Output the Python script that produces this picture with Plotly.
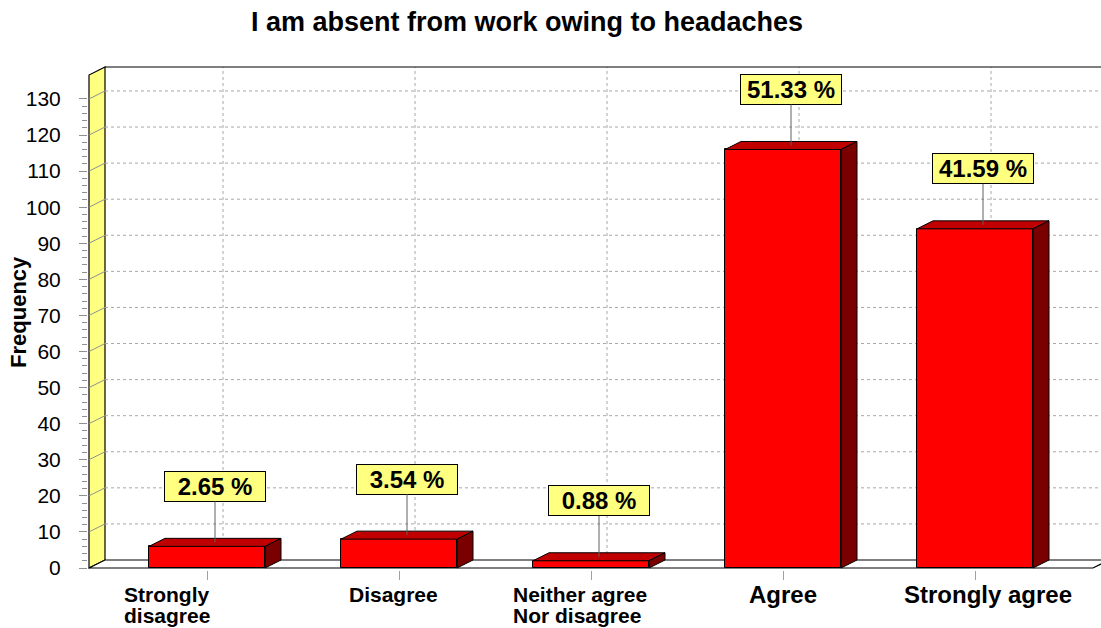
import plotly.graph_objects as go

# ---- data ----
categories = ["Strongly<br>disagree", "Disagree", "Neither agree<br>Nor disagree", "Agree", "Strongly agree"]
frequency = [6, 8, 2, 116, 94]
y_ticks = list(range(0, 140, 10))
title_text = "I am absent from work owing to headaches"
y_title = "Frequency"

# ---- page geometry (pixels) ----
W, H = 1101, 628
cat0_px, cat_step_px = 207, 192        # centre of first category, spacing
zero_px, px_per_unit = 568, 3.608      # y pixel of 0, pixels per unit
left_px, top_px, bottom_px = 88, 64, 570
wall_px = 89                           # front edge of the side wall
depth_x_px, depth_y_px = 16, 8         # 3-D depth offset
bar_px = 116                           # bar front width

dx = depth_x_px / cat_step_px
dy = depth_y_px / px_per_unit
bw = bar_px / cat_step_px
x_lo = (left_px - cat0_px) / cat_step_px
x_hi = (W - cat0_px) / cat_step_px
y_lo = -(bottom_px - zero_px) / px_per_unit
y_hi = (zero_px - top_px) / px_per_unit
wall_x = (wall_px - cat0_px) / cat_step_px
wall_top = (zero_px - 67) / px_per_unit
floor_end = (1093 - cat0_px) / cat_step_px

FONT = "Arial, Liberation Sans, sans-serif"
RED, RED_TOP, RED_SIDE = "#FF0000", "#C00000", "#7A0000"
YELLOW = "#FFFF80"
GRID = "#A8A8A8"

idx = list(range(len(categories)))
total = sum(frequency)
pct_labels = [f"{v / total * 100:.2f} %" for v in frequency]

fig = go.Figure()

# front faces of the bars
fig.add_trace(go.Bar(
    x=idx, y=frequency, width=bw,
    marker=dict(color=RED, line=dict(color="black", width=1)),
    hoverinfo="skip", showlegend=False,
))

# top and side faces for the 3-D look
top_x, top_y, side_x, side_y = [], [], [], []
for i, v in zip(idx, frequency):
    l, r = i - bw / 2, i + bw / 2
    top_x += [l, l + dx, r + dx, r, l, None]
    top_y += [v, v + dy, v + dy, v, v, None]
    side_x += [r, r + dx, r + dx, r, r, None]
    side_y += [0, dy, v + dy, v, 0, None]
fig.add_trace(go.Scatter(x=top_x, y=top_y, mode="lines", fill="toself",
                         fillcolor=RED_TOP, line=dict(color="black", width=1),
                         hoverinfo="skip", showlegend=False))
fig.add_trace(go.Scatter(x=side_x, y=side_y, mode="lines", fill="toself",
                         fillcolor=RED_SIDE, line=dict(color="black", width=1),
                         hoverinfo="skip", showlegend=False))

# ---- walls, floor and gridlines ----
shapes = []
shapes.append(dict(type="path", layer="below", xref="x", yref="y",
                   path=f"M{wall_x},0 L{wall_x + dx},{dy} L{wall_x + dx},{wall_top} "
                        f"L{wall_x},{wall_top - dy} Z",
                   fillcolor=YELLOW, line=dict(color="black", width=1.2)))
shapes.append(dict(type="path", layer="below", xref="x", yref="y",
                   path=f"M{wall_x},0 L{floor_end},0 L{floor_end + dx},{dy} "
                        f"L{wall_x + dx},{dy} Z",
                   fillcolor="white", line=dict(color="black", width=1.2)))
for t in y_ticks[1:]:
    shapes.append(dict(type="line", layer="below", xref="x", yref="y",
                       x0=wall_x, y0=t, x1=wall_x + dx, y1=t + dy,
                       line=dict(color="#909090", width=1)))
    shapes.append(dict(type="line", layer="below", xref="x", yref="y",
                       x0=wall_x + dx, y0=t + dy, x1=x_hi, y1=t + dy,
                       line=dict(color=GRID, width=1, dash="dot")))
for i in idx:
    shapes.append(dict(type="line", layer="below", xref="x", yref="y",
                       x0=i + dx, y0=dy, x1=i + dx, y1=wall_top,
                       line=dict(color=GRID, width=1, dash="dot")))
shapes.append(dict(type="line", layer="below", xref="x", yref="y",
                   x0=wall_x + dx, y0=wall_top, x1=x_hi, y1=wall_top,
                   line=dict(color="black", width=1.2)))

# ---- annotations ----
annotations = []
for i, v, lab in zip(idx, frequency, pct_labels):
    annotations.append(dict(
        x=i + dx / 2, y=v + dy / 2, xref="x", yref="y",
        text=f"<b>{lab}</b>", showarrow=True, arrowhead=0, arrowwidth=1,
        arrowcolor="#606060", standoff=0, ax=0, ay=-56,
        bgcolor=YELLOW, bordercolor="black", borderwidth=1, borderpad=1,
        width=98, height=27,
        font=dict(family=FONT, size=24, color="black"),
    ))

# category labels, one annotation per line
label_left = [-85, -52, -80, -36, -73]
label_size = [21, 21, 21, 24, 24]
for i, cat, sh, fs in zip(idx, categories, label_left, label_size):
    for k, line in enumerate(cat.split("<br>")):
        annotations.append(dict(
            x=i, y=0, xref="x", yref="paper", xanchor="left", yanchor="middle",
            xshift=sh, yshift=-(24 + 21 * k),
            text=f"<b>{line}</b>", showarrow=False,
            font=dict(family=FONT, size=fs, color="black"),
        ))

annotations.append(dict(
    x=0, y=0.51, xref="paper", yref="paper", xanchor="center", yanchor="middle",
    xshift=19 - left_px, text=f"<b>{y_title}</b>", textangle=-90, showarrow=False,
    font=dict(family=FONT, size=22, color="black"),
))

fig.update_layout(
    width=W, height=H,
    margin=dict(l=left_px, r=0, t=top_px, b=H - bottom_px, pad=0),
    paper_bgcolor="white", plot_bgcolor="white",
    title=dict(text=f"<b>{title_text}</b>", xref="container", yref="container",
               x=527 / W, y=1 - 22 / H, xanchor="center", yanchor="middle",
               font=dict(family=FONT, size=27, color="black")),
    xaxis=dict(range=[x_lo, x_hi], tickvals=idx, showticklabels=False,
               ticks="outside", ticklen=9, tickcolor="#A0A0A0", tickwidth=1,
               showgrid=False, zeroline=False, showline=False, fixedrange=True),
    yaxis=dict(range=[y_lo, y_hi], tickvals=y_ticks, ticks="outside",
               ticklen=8, tickcolor="#909090", tickwidth=1,
               minor=dict(tickvals=[v for v in range(2, 130, 2) if v % 10],
                          ticks="outside", ticklen=5, tickcolor="#909090"),
               tickfont=dict(family=FONT, size=21, color="black"),
               ticklabelstandoff=14,
               showgrid=False, zeroline=False, showline=False, fixedrange=True),
    shapes=shapes, annotations=annotations, showlegend=False,
    bargap=0,
)

fig.write_html("out.html")
